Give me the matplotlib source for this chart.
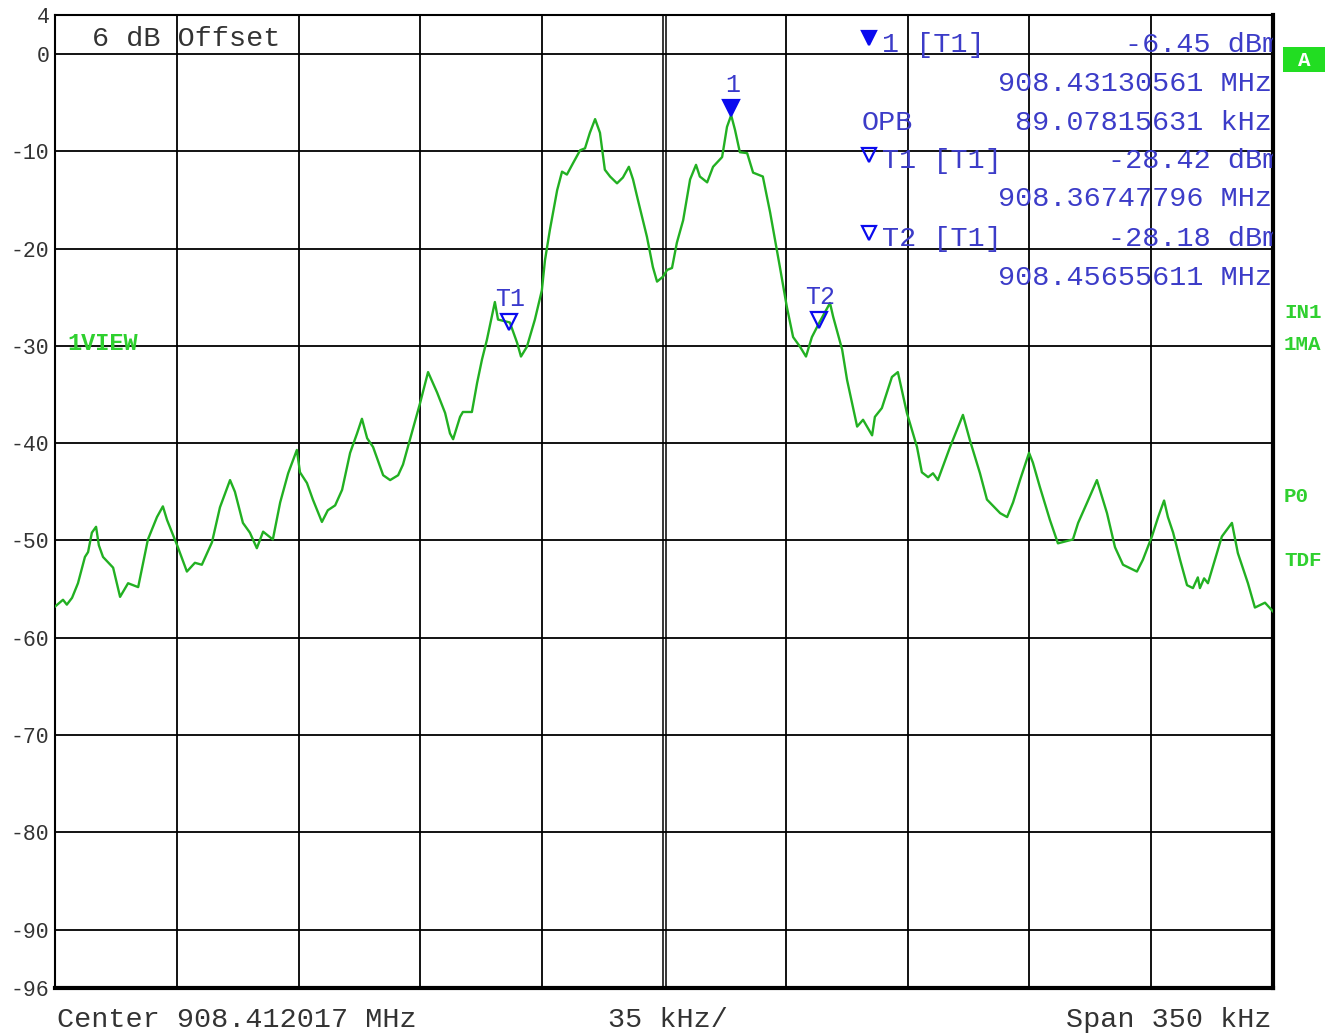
import numpy as np
import matplotlib.pyplot as plt
from matplotlib.transforms import offset_copy
from matplotlib.patches import Rectangle

plt.rcParams['font.family'] = ['Liberation Mono', 'DejaVu Sans Mono']

# analyzer settings
center_mhz = 908.412017
span_khz = 350
div_khz = 35
ref_top = 4
ref_bottom = -96

# trace (offset from center in kHz, level in dBm)
freq_khz = [
    -175.0, -172.7, -171.6, -170.1, -168.4, -166.4, -165.5, -164.4, -163.2, -162.4,
    -161.2, -158.3, -156.3, -154.0, -151.1, -148.3, -145.7, -144.0, -142.8, -139.9,
    -137.1, -134.8, -132.8, -129.9, -127.6, -124.7, -123.3, -121.0, -119.0, -117.0,
    -115.2, -112.4, -110.3, -108.0, -105.5, -104.6, -102.6, -100.9, -98.3, -96.6,
    -94.5, -92.5, -90.2, -88.2, -86.8, -85.3, -83.6, -80.7, -78.7, -76.4,
    -75.0, -73.6, -70.1, -67.8, -65.2, -62.9, -61.5, -60.6, -58.6, -57.8,
    -55.2, -53.7, -52.3, -50.9, -48.6, -47.7, -44.3, -42.2, -41.1, -39.4,
    -37.1, -35.1, -34.2, -32.8, -30.7, -29.3, -27.9, -26.1, -24.1, -22.7,
    -21.3, -19.8, -18.4, -17.0, -15.5, -13.5, -11.8, -10.1, -8.9, -7.5,
    -4.9, -3.2, -2.0, -0.3, 0.9, 2.3, 3.7, 5.5, 7.5, 9.2,
    10.3, 12.4, 14.1, 16.7, 18.1, 19.3, 20.4, 21.8, 23.9, 25.6,
    28.4, 30.5, 33.3, 35.3, 37.1, 39.1, 40.8, 42.5, 44.8, 47.7,
    48.6, 51.2, 52.6, 55.5, 57.2, 59.8, 60.6, 62.6, 65.5, 67.2,
    69.8, 72.7, 74.1, 75.9, 77.3, 78.7, 82.2, 85.9, 87.9, 90.8,
    92.8, 96.6, 98.6, 100.3, 102.3, 104.9, 106.0, 108.0, 110.9, 113.2,
    117.5, 119.0, 121.6, 124.4, 127.3, 129.6, 131.9, 135.9, 137.6, 140.2,
    142.0, 143.7, 144.8, 146.3, 148.3, 150.3, 152.0, 153.4, 154.0, 155.2,
    156.3, 160.3, 163.2, 164.9, 167.8, 169.8, 172.7, 175.0,
]
level_dbm = [
    -56.8, -56.1, -56.6, -55.9, -54.4, -51.7, -51.2, -49.2, -48.6, -50.5,
    -51.7, -52.8, -55.8, -54.4, -54.8, -49.9, -47.6, -46.5, -47.9, -50.5,
    -53.2, -52.3, -52.5, -50.2, -46.6, -43.8, -45.0, -48.2, -49.2, -50.8,
    -49.1, -49.9, -46.1, -43.1, -40.7, -43.0, -44.1, -45.8, -48.1, -46.9,
    -46.4, -44.8, -41.0, -39.0, -37.5, -39.5, -40.4, -43.3, -43.8, -43.3,
    -42.2, -40.4, -35.9, -32.7, -34.8, -36.9, -39.0, -39.6, -37.3, -36.8,
    -36.8, -33.8, -31.4, -29.4, -25.5, -27.3, -27.6, -29.7, -31.1, -30.1,
    -27.3, -24.3, -21.2, -18.1, -14.0, -12.1, -12.4, -11.2, -9.9, -9.7,
    -8.1, -6.7, -8.1, -11.9, -12.6, -13.3, -12.7, -11.6, -12.9, -15.0,
    -18.8, -21.9, -23.4, -22.9, -22.2, -22.0, -19.4, -17.1, -12.9, -11.4,
    -12.6, -13.2, -11.6, -10.6, -7.5, -6.3, -7.8, -10.1, -10.2, -12.2,
    -12.6, -16.3, -21.9, -26.0, -29.1, -30.1, -31.1, -29.1, -27.5, -25.6,
    -27.0, -30.4, -33.5, -38.3, -37.6, -39.2, -37.3, -36.4, -33.2, -32.7,
    -36.9, -40.4, -43.0, -43.5, -43.1, -43.8, -40.4, -37.1, -39.7, -43.1,
    -45.8, -47.2, -47.6, -46.1, -43.8, -41.0, -42.0, -44.5, -47.9, -50.3,
    -49.9, -48.2, -46.1, -43.8, -47.2, -50.7, -52.5, -53.2, -52.0, -49.6,
    -47.6, -45.9, -47.6, -49.2, -52.0, -54.6, -54.9, -53.8, -54.9, -53.9,
    -54.4, -49.6, -48.2, -51.3, -54.4, -56.9, -56.4, -57.3,
]

y_ticks = [4, 0, -10, -20, -30, -40, -50, -60, -70, -80, -90, -96]
y_labels = ['4', '0', '-10', '-20', '-30', '-40', '-50', '-60', '-70', '-80', '-90', '-96']

# markers
marker_names = ['1', 'T1', 'T2']
marker_freq_mhz = [908.43130561, 908.36747796, 908.45655611]
marker_level = [-6.45, -28.42, -28.18]
marker_filled = [True, False, False]
opb_khz = 89.07815631

W, H = 1341, 1034
fig = plt.figure(figsize=(W / 100, H / 100), dpi=100)
ax = fig.add_axes([55 / W, 1 - 988 / H, 1218 / W, 973 / H])


def px(x, y):
    return x / W, 1 - y / H


ax.set_xlim(-span_khz / 2, span_khz / 2)
ax.set_ylim(ref_bottom, ref_top)

# graticule
for v in range(0, -91, -10):
    ax.axhline(v, color='black', lw=1.3, zorder=1)
for v in np.arange(-span_khz / 2 + div_khz, span_khz / 2, div_khz):
    if abs(v) < 1e-6:
        ax.axvline(-0.35, color='black', lw=1.1, zorder=1)
        ax.axvline(0.55, color='black', lw=1.1, zorder=1)
    else:
        ax.axvline(v, color='black', lw=1.3, zorder=1)

ax.plot(freq_khz, level_dbm, color='#22b022', lw=1.7, zorder=3)

# markers on the trace
blue = '#0a0aee'
for name, f, lv, filled in zip(marker_names, marker_freq_mhz, marker_level, marker_filled):
    fk = (f - center_mhz) * 1000
    tr = offset_copy(ax.transData, fig=fig, x=0, y=6, units='points')
    ax.plot(fk, lv, marker='v', ms=11, color=blue, mec=blue, mew=1.6,
            mfc=blue if filled else 'none', transform=tr, zorder=5)
    tr2 = offset_copy(ax.transData, fig=fig, x=1, y=14, units='points')
    ax.text(fk, lv, name, transform=tr2, ha='center', va='bottom',
            fontsize=18, color='#3a3acc', zorder=5)

for side in ['left', 'top']:
    ax.spines[side].set_linewidth(1.5)
for side in ['right', 'bottom']:
    ax.spines[side].set_linewidth(3)

ax.set_xticks([])
ax.set_yticks(y_ticks, y_labels)
ax.tick_params(axis='y', length=0, labelsize=15.5, pad=4, labelcolor='#333333')

# marker readout
txt_blue = '#3c3cc8'
mk_kw = dict(fontsize=20.5, color=txt_blue, va='center')
ax.text(*px(882, 45), '1 [T1]', transform=fig.transFigure, ha='left', **mk_kw)
ax.text(*px(1279, 45), f'{marker_level[0]:.2f} dBm', transform=fig.transFigure,
        ha='right', clip_on=True, **mk_kw)
ax.text(*px(1272, 84), f'{marker_freq_mhz[0]:.8f} MHz', transform=fig.transFigure,
        ha='right', clip_on=True, **mk_kw)
ax.text(*px(862, 123), 'OPB', transform=fig.transFigure, ha='left', **mk_kw)
ax.text(*px(1272, 123), f'{opb_khz:.8f} kHz', transform=fig.transFigure,
        ha='right', clip_on=True, **mk_kw)
ax.text(*px(882, 161), 'T1 [T1]', transform=fig.transFigure, ha='left', **mk_kw)
ax.text(*px(1279, 161), f'{marker_level[1]:.2f} dBm', transform=fig.transFigure,
        ha='right', clip_on=True, **mk_kw)
ax.text(*px(1272, 199), f'{marker_freq_mhz[1]:.8f} MHz', transform=fig.transFigure,
        ha='right', clip_on=True, **mk_kw)
ax.text(*px(882, 239), 'T2 [T1]', transform=fig.transFigure, ha='left', **mk_kw)
ax.text(*px(1279, 239), f'{marker_level[2]:.2f} dBm', transform=fig.transFigure,
        ha='right', clip_on=True, **mk_kw)
ax.text(*px(1272, 278), f'{marker_freq_mhz[2]:.8f} MHz', transform=fig.transFigure,
        ha='right', clip_on=True, **mk_kw)
for (x, y), filled in zip([(869, 38), (869, 155), (869, 233)], marker_filled):
    ax.plot(*px(x, y), marker='v', ms=10, color=blue, mec=blue, mew=1.6,
            mfc=blue if filled else 'none', transform=fig.transFigure, clip_on=False)

ax.text(*px(92, 39), '6 dB Offset', transform=fig.transFigure, fontsize=20.5,
        color='#333333', ha='left', va='center')

# green side labels
green = '#2fd02f'
gkw = dict(fontsize=15, color=green, fontweight='bold', va='center', ha='left')
ax.text(*px(67, 344), '1VIEW', transform=fig.transFigure,
        **{**gkw, 'fontsize': 17})
for label, y in [('IN1', 312), ('1MA', 344), ('P0', 497), ('TDF', 561)]:
    fig.text(*px(1284, y), label, **gkw)
fig.patches.append(Rectangle(px(1283, 72), 42 / W, 25 / H, transform=fig.transFigure,
                             facecolor='#22dd22', edgecolor='none'))
fig.text(*px(1304, 60), 'A', fontsize=15, color='white', fontweight='bold',
         ha='center', va='center')

# bottom annotation
bkw = dict(fontsize=20.5, color='#333333', va='center')
fig.text(*px(57, 1020), f'Center {center_mhz:.6f} MHz', ha='left', **bkw)
fig.text(*px(608, 1020), f'{div_khz} kHz/', ha='left', **bkw)
fig.text(*px(1272, 1020), f'Span {span_khz} kHz', ha='right', **bkw)

plt.savefig('out.png', dpi=100)
